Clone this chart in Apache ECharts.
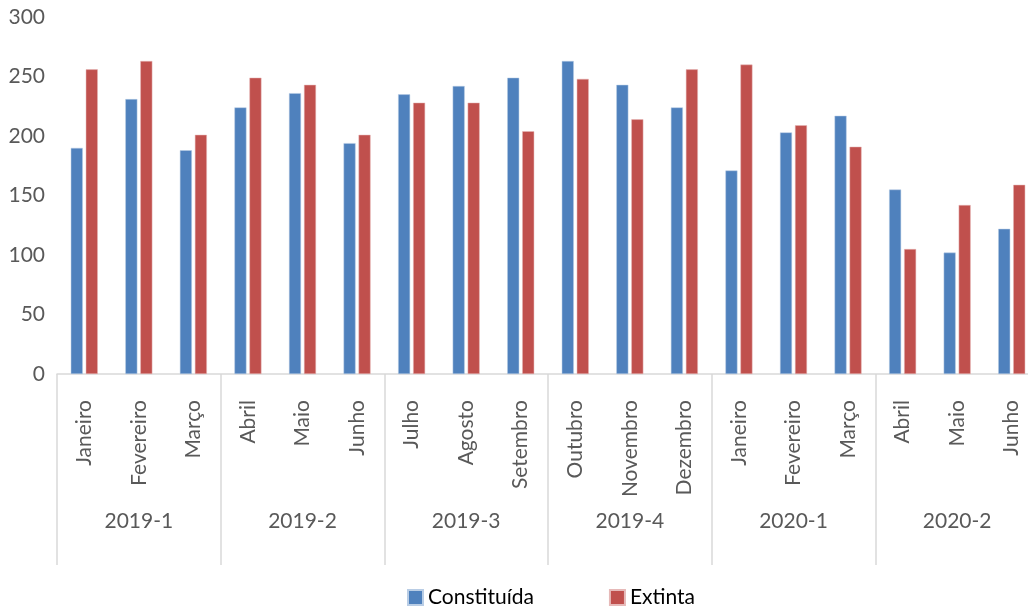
<!DOCTYPE html>
<html>
<head>
<meta charset="utf-8">
<script src="https://cdn.jsdelivr.net/npm/echarts@6/dist/echarts.min.js"></script>
<style>html,body{margin:0;padding:0;background:#fff;overflow:hidden;width:1028px;height:607px}#c{width:1039px;height:607px}</style>
</head>
<body>
<div id="c"></div>
<script>
var months = ['Janeiro','Fevereiro','Março','Abril','Maio','Junho','Julho','Agosto','Setembro','Outubro','Novembro','Dezembro','Janeiro','Fevereiro','Março','Abril','Maio','Junho'];
var groups = ['2019-1','2019-2','2019-3','2019-4','2020-1','2020-2'];
var constituida = [190,231,188,224,236,194,235,242,249,263,243,224,171,203,217,155,102,122];
var extinta = [256,263,201,249,243,201,228,228,204,248,214,256,260,209,191,105,142,159];
var yTicks = {min:0, max:300, interval:50};

var chart = echarts.init(document.getElementById('c'));
var font = 'Lato';
chart.setOption({
  animation:false,
  grid:{left:57, top:17, right:0, bottom:233},
  legend:{
    left:407, top:587, padding:0, icon:'rect', itemWidth:15, itemHeight:15, itemGap:75,
    textStyle:{fontFamily:font, fontSize:21, color:'#000'},
    data:['Constituída','Extinta']
  },
  xAxis:[{
    type:'category', data:months, position:'bottom',
    axisLine:{lineStyle:{color:'#d9d9d9', width:1.5}},
    axisTick:{show:false},
    axisLabel:{rotate:90, margin:26, interval:0, fontFamily:font, fontSize:21, color:'#595959', padding:[10,0,0,0]}
  },{
    type:'category', data:groups, position:'bottom', offset:0,
    axisLine:{show:false},
    axisTick:{show:true, length:191, lineStyle:{color:'#d9d9d9', width:1.5}},
    axisLabel:{margin:137, interval:0, fontFamily:font, fontSize:21, color:'#595959'}
  }],
  yAxis:{
    type:'value', min:yTicks.min, max:yTicks.max, interval:yTicks.interval,
    axisLine:{show:false}, axisTick:{show:false}, splitLine:{show:false},
    axisLabel:{margin:12, fontFamily:font, fontSize:21, color:'#595959', padding:[6,0,0,0]}
  },
  series:[{
    name:'Constituída', type:'bar', data:constituida, barWidth:12, barGap:'25%',
    itemStyle:{color:'#4F81BD', borderColor:'#b9cde5', borderWidth:0.5}
  },{
    name:'Extinta', type:'bar', data:extinta, barWidth:12, barGap:'25%',
    itemStyle:{color:'#C0504D', borderColor:'#e6b9b8', borderWidth:0.5}
  }]
});
</script>
</body>
</html>
